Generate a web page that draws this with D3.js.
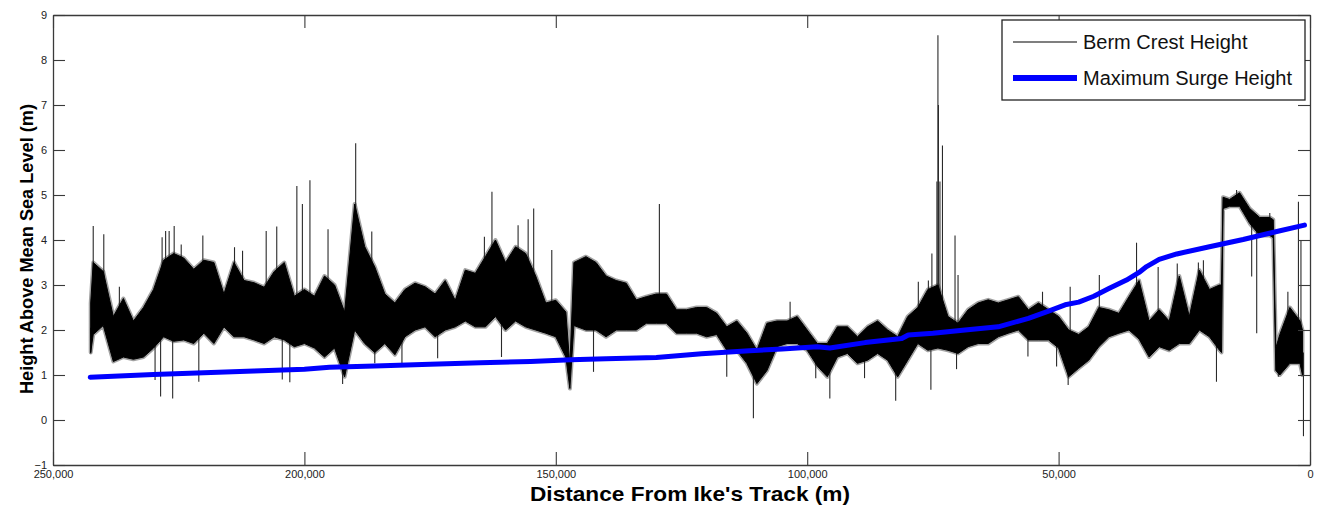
<!DOCTYPE html>
<html><head><meta charset="utf-8">
<script src="https://cdn.jsdelivr.net/npm/d3@7"></script>
<style>body{margin:0;background:#fff} svg{display:block}</style>
</head><body>
<svg id="chart" width="1320" height="506"></svg>
<script>
// ---------- data (distance in km from Ike's track, heights in m) ----------
const xTickValues = [250000, 200000, 150000, 100000, 50000, 0];
const yTickValues = [-1, 0, 1, 2, 3, 4, 5, 6, 7, 8, 9];
const legendLabels = ["Berm Crest Height", "Maximum Surge Height"];

// Berm crest: dense band (local low / high) sampled along the track
const bandDist = [242.5,242,240,238,236,234,232,230,228,226,224,222,220,218,216,214,212,210,208,206,204,202,200,198,196,194,192,190,188,186,184,182,180,178,176,174,172,170,168,166,164,162,160,158,156,154,152,150,148,147.2,146.4,144,142,140,138,136,134,132,130,128,126,124,122,120,118,116,114,112,110,108,106,104,102,100,98,96,94,92,90,88,86,84,82,80,78,76,74,72,70,68,66,64,62,60,58,56,54,52,50,48,46,44,42,40,38,36,34,32,30,28,26,24,22,20,18,17.6,17.3,16,14,12,10,8,7.3,6.8,6,4,2,1.5];
const bandLow  = [1.5,1.9,2.1,1.3,1.4,1.35,1.4,1.6,1.85,1.75,1.78,1.7,1.93,1.7,2.07,1.85,1.85,1.78,1.7,1.85,1.78,1.63,1.7,1.6,1.4,1.6,0.96,2.0,1.7,1.5,1.7,1.45,1.85,2.0,2.07,1.85,2.0,2.07,2.2,2.07,2.07,2.3,2.0,2.2,2.07,2.0,1.93,1.85,1.4,0.7,2.1,2.0,2.0,1.85,2.0,2.0,2.0,2.15,2.15,2.15,1.93,1.93,1.93,1.85,1.9,1.55,1.55,1.26,0.81,1.1,1.63,1.7,1.7,1.55,1.2,0.96,1.4,1.48,1.26,1.33,1.48,1.33,0.96,1.33,1.7,1.55,1.6,1.55,1.48,1.63,1.7,1.7,1.85,1.93,2.0,1.78,1.78,1.78,1.6,0.96,1.15,1.33,1.63,1.85,1.93,2.0,1.8,1.4,1.63,1.55,1.7,1.7,2.0,1.85,1.55,1.5,4.7,4.75,4.75,4.37,4.1,4.1,4.05,1.1,1.0,1.26,1.26,1.0];
const bandHigh = [2.6,3.5,3.3,2.3,2.7,2.2,2.5,2.9,3.55,3.7,3.6,3.35,3.55,3.5,2.8,3.5,3.1,3.05,2.95,3.3,3.5,2.75,2.9,2.75,3.2,3.0,2.4,4.8,3.85,3.4,2.8,2.6,2.9,3.04,2.96,2.8,3.1,2.66,3.33,3.26,3.63,4.0,3.5,3.85,3.7,3.2,2.6,2.66,2.4,1.2,3.5,3.63,3.5,3.2,3.1,3.04,2.67,2.74,2.8,2.8,2.45,2.45,2.5,2.5,2.37,2.07,2.2,1.93,1.55,2.15,2.2,2.2,2.3,2.0,1.7,1.7,2.07,2.07,1.85,2.07,2.2,2.0,1.85,2.3,2.5,2.9,3.0,2.3,2.15,2.45,2.6,2.67,2.6,2.67,2.74,2.45,2.6,2.45,2.3,2.0,1.9,2.07,2.5,2.45,2.37,2.74,3.1,2.2,2.45,2.2,3.2,2.3,3.33,2.9,3.0,3.0,4.95,4.9,5.05,4.7,4.5,4.5,4.45,1.6,1.9,2.5,2.2,2.0];

// Berm crest: isolated narrow spikes
const spikeDist = [242.5,242.0,239.9,236.8,229.7,228.6,228.3,227.6,226.9,226.2,225.9,224.5,221.0,220.2,213.9,212.3,207.6,205.5,204.4,202.9,201.5,200.4,198.9,195.3,192.4,189.8,186.6,186.0,180.6,173.5,164.2,162.7,160.8,157.5,155.5,154.4,150.8,142.5,129.4,116.0,110.7,103.4,98.3,95.5,88.6,82.4,77.9,75.9,75.4,75.2,74.2,74.0,73.9,73.6,73.1,70.6,70.3,70.0,56.1,53.2,50.4,48.1,47.7,41.9,34.5,30.2,26.4,22.2,21.2,18.6,14.6,11.6,10.6,8.0,6.3,4.4,2.3,1.8,1.3];
const spikeVal  = [1.48,4.31,4.13,2.96,0.89,0.52,4.06,4.2,4.2,0.48,4.31,3.9,0.85,4.1,3.84,3.76,4.2,4.3,0.9,0.84,5.2,4.8,5.33,4.24,0.8,6.15,4.19,1.26,1.26,1.37,4.07,5.07,1.4,4.33,4.46,4.7,3.78,1.07,4.8,0.96,0.04,2.63,0.93,0.48,0.93,0.43,3.07,3.1,0.67,3.7,5.3,8.55,7.0,5.3,6.1,4.1,1.13,3.22,1.41,2.85,1.19,0.78,2.96,3.22,3.94,3.4,3.48,3.5,3.55,0.85,5.11,3.19,1.93,4.6,0.96,2.85,4.85,4.0,-0.36];

// Maximum surge height
const surgeDist = [242.6,230,220,210,200,195,186,175,165,155,147,140,130,121,111.5,105,98,95.5,88.5,81.2,79.9,75,68.6,62,56,52,48.7,46,43,40,36.5,34,32.5,30,26.5,20,13.3,6.6,1.1];
const surgeVal  = [0.95,1.01,1.05,1.09,1.13,1.17,1.2,1.24,1.27,1.3,1.34,1.36,1.39,1.47,1.54,1.58,1.63,1.6,1.72,1.81,1.89,1.93,2.0,2.07,2.26,2.42,2.56,2.62,2.75,2.92,3.11,3.28,3.41,3.57,3.69,3.85,4.01,4.19,4.33];

// ---------- drawing ----------
const FONT = "'Liberation Sans', Arial, sans-serif";
const L = 53, R = 1310, T = 15, B = 465;
const svg = d3.select('#chart');
const x = d3.scaleLinear().domain([250000, 0]).range([L, R]);
const y = d3.scaleLinear().domain([-1, 9]).range([B, T]);

svg.append('defs').append('clipPath').attr('id', 'clip')
  .append('rect').attr('x', L).attr('y', T).attr('width', R - L).attr('height', B - T);

const plot = svg.append('g').attr('clip-path', 'url(#clip)');

const band = bandDist.map((d, i) => ({d: d * 1000, lo: bandLow[i], hi: bandHigh[i]}));
const midAt = d3.scaleLinear().domain(bandDist.map(d => d * 1000)).range(bandDist.map((d, i) => (bandLow[i] + bandHigh[i]) / 2)).clamp(true);
const bandArea = d3.area().x(p => x(p.d)).y0(p => y(p.lo)).y1(p => y(p.hi));

// soft grey fringe around the dense band (anti-aliased look of the noisy trace)
plot.append('path').datum(band)
  .attr('d', bandArea)
  .attr('fill', 'none').attr('stroke', '#555').attr('stroke-opacity', 0.55)
  .attr('stroke-width', 4).attr('stroke-linejoin', 'round');

// spikes
plot.append('g').selectAll('line').data(spikeDist.map((d, i) => ({d: d * 1000, v: spikeVal[i]})))
  .join('line')
  .attr('x1', p => x(p.d)).attr('x2', p => x(p.d))
  .attr('y1', p => y(midAt(p.d))).attr('y2', p => y(p.v))
  .attr('stroke', '#2a2a2a').attr('stroke-width', 1.1);

// dense band
plot.append('path').datum(band)
  .attr('d', bandArea)
  .attr('fill', '#000').attr('stroke', '#000').attr('stroke-width', 1);

// surge line
plot.append('path').datum(surgeDist.map((d, i) => ({d: d * 1000, v: surgeVal[i]})))
  .attr('d', d3.line().x(p => x(p.d)).y(p => y(p.v)))
  .attr('fill', 'none').attr('stroke', '#0000ff').attr('stroke-width', 5)
  .attr('stroke-linejoin', 'round').attr('stroke-linecap', 'round');

// axes
const axisColor = '#3a3a3a';
function styleAxis(g) {
  g.selectAll('path.domain').attr('stroke', axisColor).attr('stroke-width', 1.3);
  g.selectAll('.tick line').attr('stroke', axisColor).attr('stroke-width', 1.1);
  g.selectAll('text').attr('fill', '#222').style('font-family', FONT).style('font-size', '11px');
}
svg.append('g').attr('transform', `translate(0,${B})`)
  .call(d3.axisBottom(x).tickValues(xTickValues).tickFormat(d3.format(',')).tickSizeInner(-13).tickSizeOuter(0).tickPadding(5))
  .call(styleAxis);
svg.append('g').attr('transform', `translate(0,${T})`)
  .call(d3.axisTop(x).tickValues(xTickValues).tickFormat('').tickSizeInner(-13).tickSizeOuter(0))
  .call(styleAxis);
svg.append('g').attr('transform', `translate(${L},0)`)
  .call(d3.axisLeft(y).tickValues(yTickValues).tickSizeInner(-12).tickSizeOuter(0).tickPadding(6))
  .call(styleAxis);
svg.append('g').attr('transform', `translate(${R},0)`)
  .call(d3.axisRight(y).tickValues(yTickValues).tickFormat('').tickSizeInner(-12).tickSizeOuter(0))
  .call(styleAxis);

// axis titles
svg.append('text').attr('x', 690).attr('y', 501).attr('text-anchor', 'middle')
  .attr('textLength', 320).attr('lengthAdjust', 'spacingAndGlyphs')
  .style('font-family', FONT).style('font-size', '21px').style('font-weight', 'bold').attr('fill', '#000')
  .text("Distance From Ike's Track (m)");
svg.append('text').attr('transform', 'translate(33,249) rotate(-90)').attr('text-anchor', 'middle')
  .attr('textLength', 290).attr('lengthAdjust', 'spacingAndGlyphs')
  .style('font-family', FONT).style('font-size', '18px').style('font-weight', 'bold').attr('fill', '#000')
  .text('Height Above Mean Sea Level (m)');

// legend
const lg = svg.append('g');
lg.append('rect').attr('x', 1002).attr('y', 20).attr('width', 303).attr('height', 80)
  .attr('fill', '#fff').attr('stroke', '#222').attr('stroke-width', 1.3);
const legendStyles = [{c: '#000', w: 1.2, yy: 42}, {c: '#0000ff', w: 6, yy: 78}];
legendLabels.forEach((lab, i) => {
  const s = legendStyles[i];
  lg.append('line').attr('x1', 1013).attr('x2', 1077).attr('y1', s.yy).attr('y2', s.yy)
    .attr('stroke', s.c).attr('stroke-width', s.w);
  lg.append('text').attr('x', 1083).attr('y', s.yy + 7)
    .style('font-family', FONT).style('font-size', '20px').attr('fill', '#111').text(lab);
});
</script>
</body></html>
